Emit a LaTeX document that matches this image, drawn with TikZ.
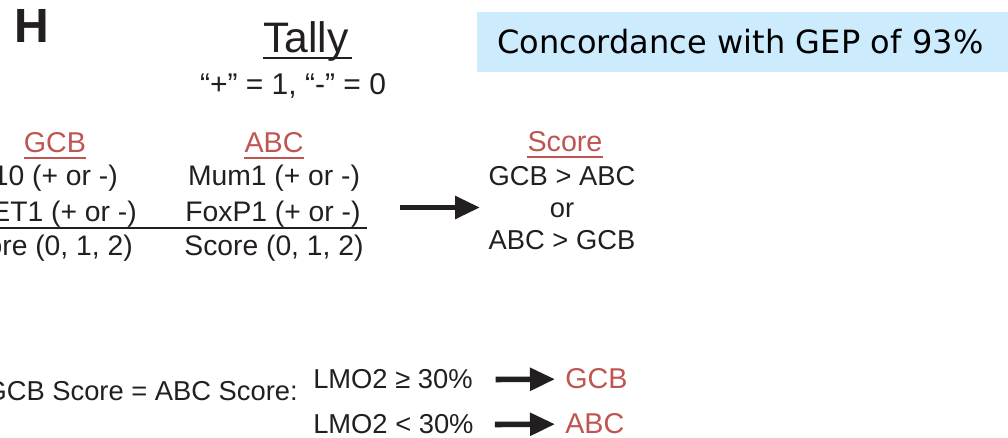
\documentclass[tikz,border=0pt]{standalone}
\usepackage{fontspec}
\setmainfont{Liberation Sans}
\newfontfamily\verdfont{DejaVu Sans}
\usepackage{tikz}
\usetikzlibrary{arrows.meta, calc}

\definecolor{ink}{RGB}{35,31,32}
\definecolor{hdred}{RGB}{190,85,80}
\definecolor{concblue}{RGB}{204,235,253}

\begin{document}
\begin{tikzpicture}[
  x=0.75pt, y=-0.75pt,
  txt/.style={inner sep=0pt, anchor=base, text=ink, font=\fontsize{21.2}{25}\selectfont},
  head/.style={txt, text=hdred, font=\fontsize{21.5}{25}\selectfont},
  uline/.style={line width=1.5pt},
  rule/.style={line width=1.5pt, draw=ink},
  bigarrow/.style={-{Triangle[length=18.75pt, width=16.5pt]}, line width=4.2pt, draw=ink, fill=ink},
  conc/.style={fill=concblue, anchor=base west, text width=382pt, inner xsep=15pt, inner ysep=13.5pt, align=left, font=\verdfont\fontsize{24}{28}\selectfont},
]
\useasboundingbox (0,0) rectangle (1008,438);
\clip (0,0) rectangle (1008,438);

% Panel letter, title and banner
\node[txt, anchor=base west, font=\bfseries\fontsize{36}{40}\selectfont] (panel) at (14,43) {H};
\node[txt, font=\fontsize{32}{36}\selectfont] (tally) at (306,53) {Tally};
\node[txt, font=\fontsize{22.5}{26}\selectfont] (rule01) at (293,95) {“+” = 1, “-” = 0};
\node[conc] (conc) at (477,54) {Concordance with GEP of 93\%};

% GCB column
\node[head] (gcbhd) at (55,153) {GCB};
\node[txt, anchor=base east] (cd10) at (118,186) {CD10 (+ or -)};
\node[txt, anchor=base east] (gcet) at (137,222) {GCET1 (+ or -)};
\node[txt, anchor=base east] (gcbsc) at (133,256) {Score (0, 1, 2)};

% ABC column
\node[head] (abchd) at (274,153) {ABC};
\node[txt] (mum) at (274,186) {Mum1 (+ or -)};
\node[txt] (foxp) at (273,222) {FoxP1 (+ or -)};
\node[txt] (abcsc) at (274,256) {Score (0, 1, 2)};

% Score column
\node[head] (scorehd) at (565,152) {Score};
\node[txt, font=\fontsize{20.5}{24}\selectfont] (gcbwin) at (562,186) {GCB > ABC};
\node[txt, font=\fontsize{20.5}{24}\selectfont] (orw) at (562,218) {or};
\node[txt, font=\fontsize{20.5}{24}\selectfont] (abcwin) at (562,250) {ABC > GCB};

% Tie rule
\node[txt, anchor=base east, font=\fontsize{20.5}{24}\selectfont] (tie) at (298,401) {GCB Score = ABC Score:};
\node[txt, anchor=base west, font=\fontsize{20.5}{24}\selectfont] (lmohi) at (313,389) {LMO2 ≥ 30\%};
\node[txt, anchor=base west, font=\fontsize{20.5}{24}\selectfont] (lmolo) at (313,434) {LMO2 < 30\%};
\node[head, anchor=base west] (gcbres) at (565,389) {GCB};
\node[head, anchor=base west] (abcres) at (565,434) {ABC};

% Underlines and sum rule
\draw[uline, ink] ($(tally.base west)+(0,5)$) -- ($(tally.base east)+(3,5)$);
\foreach \n in {gcbhd, abchd, scorehd}
  \draw[uline, hdred] ($(\n.base west)+(0,5)$) -- ($(\n.base east)+(0,5)$);
\coordinate (ruleL) at (-5,228);
\coordinate (ruleR) at (367,228);
\draw[rule] (ruleL) -- (ruleR);

% Arrows
\coordinate (arrL) at (400,207.5);
\coordinate (arrR) at (480,207.5);
\draw[bigarrow] (arrL) -- (arrR);
\draw[bigarrow, shorten <=17pt, shorten >=7.5pt] (lmohi.east) -- (gcbres.west);
\draw[bigarrow, shorten <=15.75pt, shorten >=7.5pt] (lmolo.east) -- (abcres.west);
\end{tikzpicture}
\end{document}
